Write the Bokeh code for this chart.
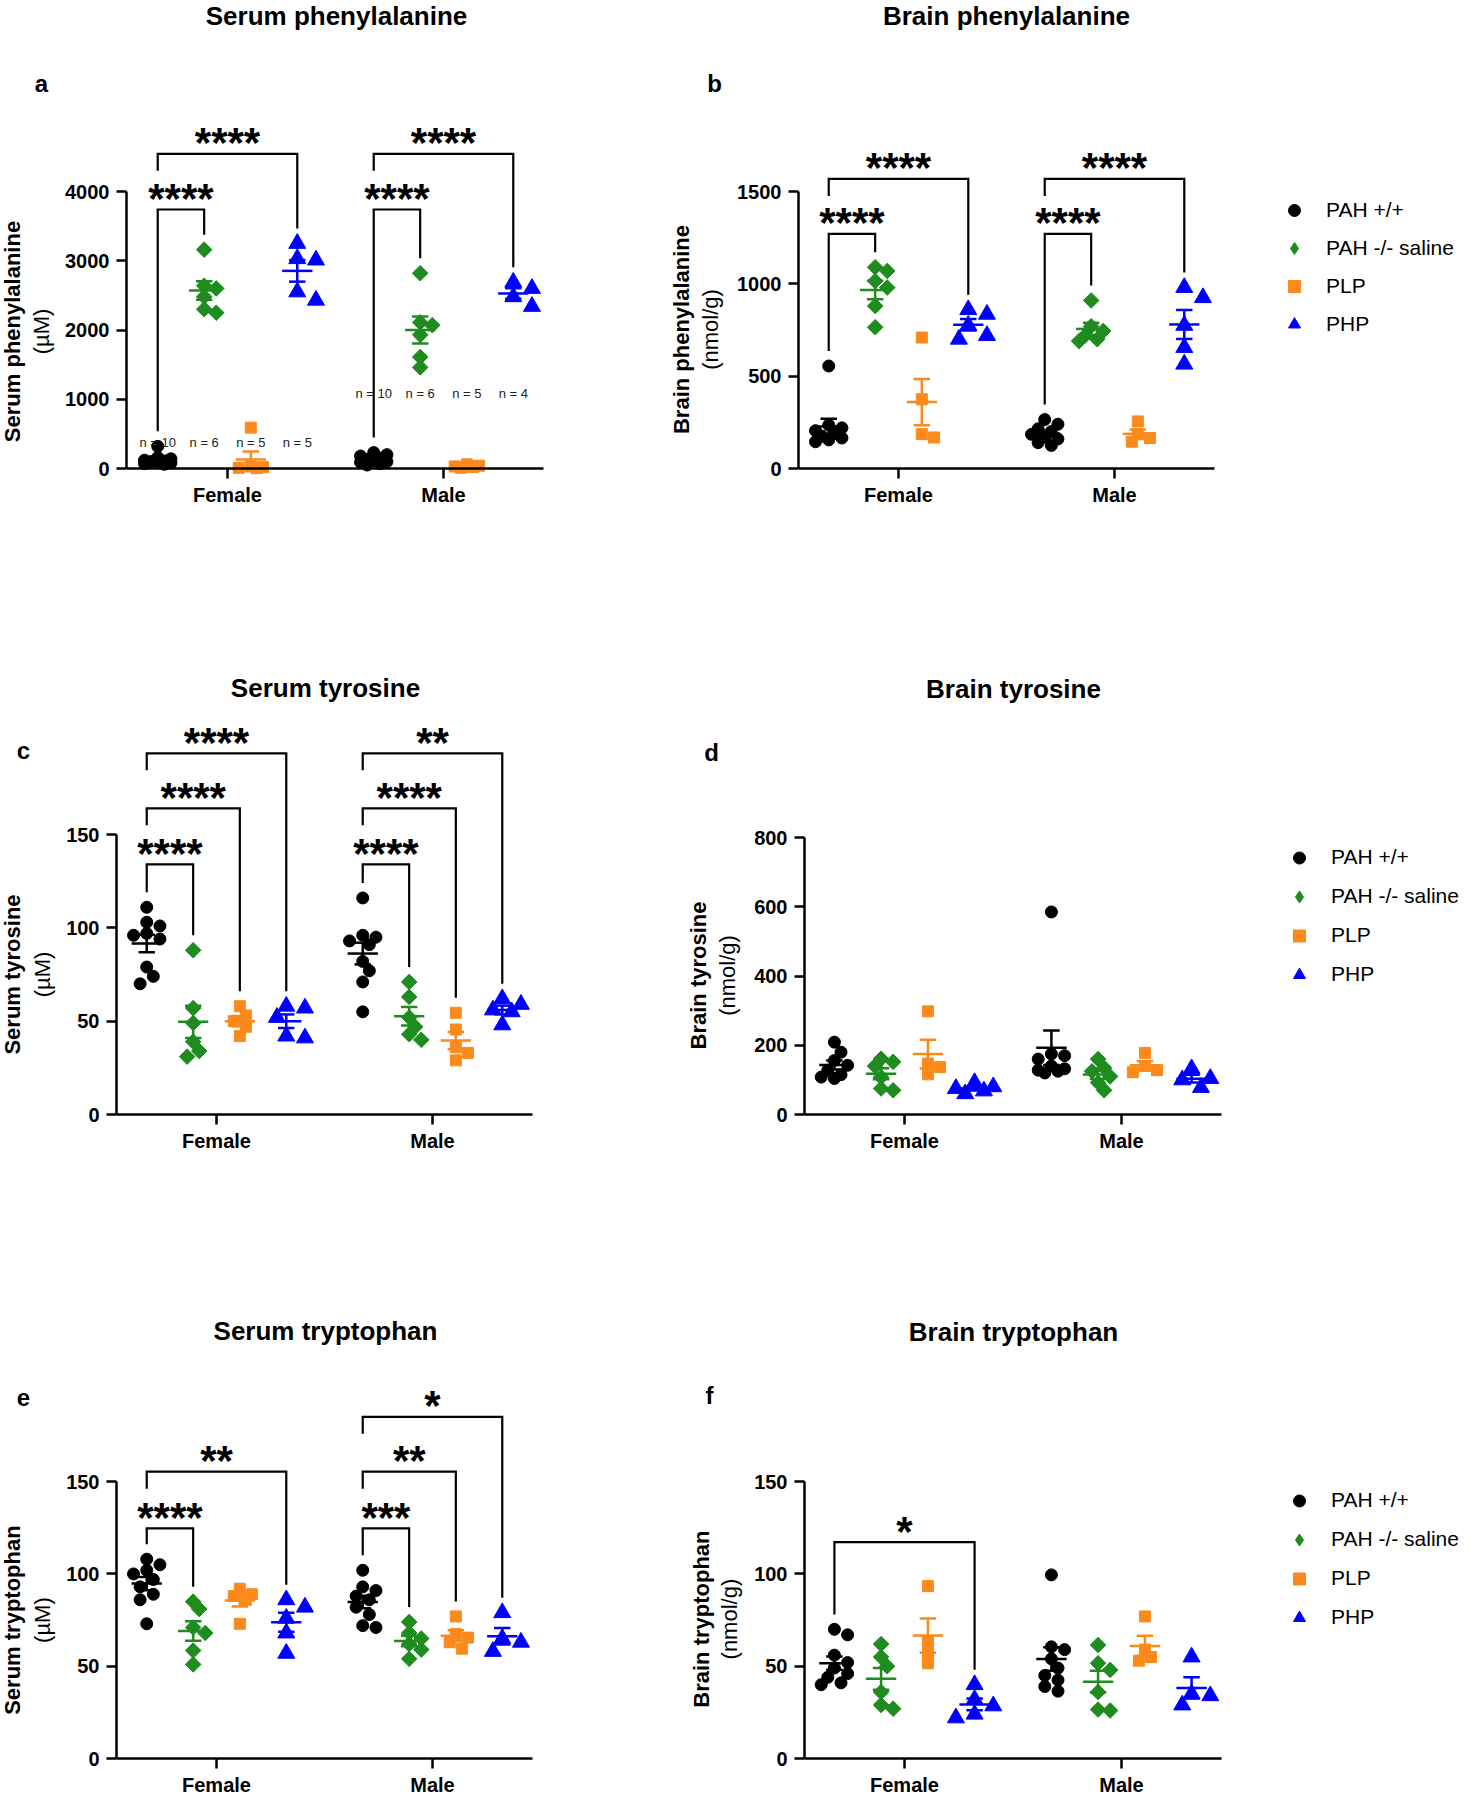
import math
import statistics
import numpy as np
from bokeh.plotting import figure
from bokeh.models import ColumnDataSource, FixedTicker, Label, Legend, LegendItem, Range1d
from bokeh.layouts import row, column
from bokeh.embed import file_html
from bokeh.resources import INLINE

FONT = "Liberation Sans"

# ---------------------------------------------------------------- data
sexes = ["Female", "Male"]
groups = ["PAH +/+", "PAH -/- saline", "PLP", "PHP"]

# each list: [PAH +/+, PAH -/- saline, PLP, PHP]
serum_phe_female = [[320, 160, 140, 120, 110, 100, 90, 80, 70, 60],
                    [3160, 2640, 2600, 2480, 2300, 2250],
                    [590, 30, 20, 10, 5],
                    [3250, 3030, 3010, 2550, 2430]]
serum_phe_male = [[230, 200, 180, 150, 130, 110, 100, 90, 70, 50],
                  [2820, 2110, 2070, 1930, 1610, 1460],
                  [60, 40, 30, 20, 10],
                  [2690, 2600, 2480, 2340]]

brain_phe_female = [[555, 235, 220, 205, 190, 175, 165, 155, 145],
                    [1090, 1070, 1015, 980, 880, 765],
                    [709, 375, 186, 168],
                    [860, 835, 775, 720, 700]]
brain_phe_male = [[265, 240, 215, 200, 185, 170, 160, 140, 125],
                  [910, 770, 745, 720, 700, 690],
                  [255, 185, 165, 145],
                  [980, 925, 775, 655, 565]]

serum_tyr_female = [[111, 103, 101, 97, 96, 94, 79, 74, 70],
                    [88, 57, 49, 39, 34, 31],
                    [58, 53, 50, 47, 42],
                    [58, 57, 52, 42, 41]]
serum_tyr_male = [[116, 96, 95, 93, 91, 82, 77, 71, 55],
                  [71, 63, 52, 47, 43, 40],
                  [54.5, 45.5, 36, 33, 29],
                  [62, 59, 56, 55, 48]]

brain_tyr_female = [[209, 180, 156, 142, 128, 115, 108, 104],
                    [161, 152, 140, 108, 75, 70],
                    [298, 147, 137, 116],
                    [92, 80, 75, 68, 60]]
brain_tyr_male = [[585, 175, 170, 160, 140, 132, 128, 125, 120],
                  [160, 135, 125, 110, 92, 70],
                  [178, 140, 128, 122],
                  [132, 104, 100, 78]]

serum_trp_female = [[108, 105, 102, 100, 97, 93, 89, 86, 73],
                    [85, 81, 71, 68, 58.5, 51],
                    [92, 89, 88, 86, 73],
                    [86, 82, 76, 68, 57]]
serum_trp_male = [[102, 93, 91, 88, 86, 82, 78, 72, 71],
                  [74, 68, 65, 62, 59, 54],
                  [77, 67.5, 65.5, 63, 59.5],
                  [79, 65, 63, 58]]

brain_trp_female = [[70, 67, 56, 52, 49, 46, 44, 41, 40],
                    [62, 55, 50, 36, 29, 27],
                    [93.4, 63.6, 57.9, 51.6],
                    [40, 32, 28.5, 24, 22]]
brain_trp_male = [[99.5, 60.5, 59, 54, 49, 45, 42.5, 39, 36.5],
                  [61.5, 51.6, 48, 36, 26.5, 26],
                  [77, 59, 55, 53],
                  [55, 35, 34, 29]]

# y ticks
serum_phe_ticks = [0, 1000, 2000, 3000, 4000]
brain_phe_ticks = [0, 500, 1000, 1500]
serum_tyr_ticks = [0, 50, 100, 150]
brain_tyr_ticks = [0, 200, 400, 600, 800]
serum_trp_ticks = [0, 50, 100, 150]
brain_trp_ticks = [0, 50, 100, 150]

# significance: (sex index, compared group index vs PAH +/+, bracket height, stars)
serum_phe_sig = [(0, 1, 3740, "****"), (0, 3, 4544, "****"), (1, 1, 3740, "****"), (1, 3, 4544, "****")]
brain_phe_sig = [(0, 1, 1271, "****"), (0, 3, 1568, "****"), (1, 1, 1271, "****"), (1, 3, 1568, "****")]
serum_tyr_sig = [(0, 1, 134, "****"), (0, 2, 164, "****"), (0, 3, 193.5, "****"),
                 (1, 1, 134, "****"), (1, 2, 164, "****"), (1, 3, 193.5, "**")]
brain_tyr_sig = []
serum_trp_sig = [(0, 1, 124.7, "****"), (0, 3, 155.4, "**"),
                 (1, 1, 124.7, "***"), (1, 2, 155.4, "**"), (1, 3, 185.1, "*")]
brain_trp_sig = [(0, 3, 117.2, "*")]

serum_phe_n_levels = [380, 1078]

# ---------------------------------------------------------------- styles
group_colors = ["#000000", "#1e8c1e", "#fb8a1c", "#0000ff"]
group_markers = ["circle", "square", "square", "triangle"]
legend_markers = ["circle", "diamond", "square", "triangle"]
group_angles = [0.0, math.pi / 4, 0.0, 0.0]
group_sizes = [12, 11, 11, 17]
group_offsets = [-0.323, -0.108, 0.108, 0.323]


def sem(v):
    return statistics.stdev(v) / math.sqrt(len(v))


def swarm(vals, k, size, unit):
    d = 0.55 * size
    cands = [0.0, d, -d, 2 * d, -2 * d]
    placed = []
    offs = [0.0] * len(vals)
    order = sorted(range(len(vals)), key=lambda i: -vals[i])
    for i in order:
        y = vals[i] * k
        best = None
        for c in cands:
            if all(math.hypot(c - px, y - py) >= 0.85 * size for px, py in placed):
                best = c
                break
        if best is None:
            best = max(cands, key=lambda c: min(math.hypot(c - px, y - py) for px, py in placed))
        placed.append((best, y))
        offs[i] = best / unit
    return offs


def style_fig(p):
    p.xgrid.visible = False
    p.ygrid.visible = False
    p.outline_line_color = None
    p.background_fill_color = "white"
    p.border_fill_color = "white"


def label_fig(ylab, unit_lab, letter, g):
    """Strip left of the y axis holding the panel letter and the two-line axis title."""
    x0, w = g["fx"], g["lw"]
    y0, h = g["fy"], g["fh"]
    fbot = g["fbot"]
    p = figure(width=w, height=h, x_range=Range1d(x0, x0 + w), y_range=Range1d(fbot, y0),
               output_backend="svg", toolbar_location=None, title=None,
               x_axis_location=None, y_axis_location=None,
               min_border_left=0, min_border_right=0, min_border_top=0,
               min_border_bottom=int(round(y0 + h - fbot)))
    style_fig(p)

    def L(px, py, text, size, style="bold", angle=0.0):
        p.add_layout(Label(x=px, y=py, text=text, text_font=FONT,
                           text_font_size=size, text_font_style=style, text_align="center",
                           text_baseline="middle", angle=angle, text_color="black"))

    L(g["letter"][0], g["letter"][1], letter, "24px")
    L(g["ylab_x"], g["ylab_y"], ylab, "22px", "bold", math.pi / 2)
    L(g["unit_x"], g["ylab_y"], unit_lab, "22px", "normal", math.pi / 2)
    return p


def make_panel(title, vals_f, vals_m, yticks, sig, g, legend=False, n_levels=None):
    unit = g["xM"] - g["xF"]
    k = (g["y0"] - g["ytop"]) / yticks[-1]
    mx = g["fx"] + g["lw"]          # left edge of the main figure (page px)
    mw = g["fw"] - g["lw"]

    def X(px):
        return (px - g["xF"]) / unit

    def Y(py):
        return (g["y0"] - py) / k

    fbot = g["fbot"]
    p = figure(width=mw, height=g["fh"],
               x_range=Range1d(X(g["xL"]), X(mx + mw)),
               y_range=Range1d(Y(fbot), Y(g["fy"])),
               output_backend="svg", toolbar_location=None, title=None,
               min_border_left=int(round(g["xL"] - mx)),
               min_border_right=0, min_border_top=0,
               min_border_bottom=int(round(g["fy"] + g["fh"] - fbot)))
    style_fig(p)

    xa = p.xaxis[0]
    ya = p.yaxis[0]
    for ax in (xa, ya):
        ax.axis_line_width = 2.5
        ax.axis_line_color = "black"
        ax.major_tick_line_width = 2.5
        ax.major_tick_line_color = "black"
        ax.major_tick_in = 0
        ax.major_tick_out = 10
        ax.minor_tick_line_color = None
        ax.major_label_text_font = FONT
        ax.major_label_text_font_size = "20px"
        ax.major_label_text_font_style = "bold"
        ax.major_label_text_color = "black"
    xa.ticker = FixedTicker(ticks=[0, 1])
    xa.major_label_overrides = {0: sexes[0], 1: sexes[1]}
    xa.major_label_standoff = 5
    xa.bounds = (X(g["xL"]), X(g["xR"]))
    ya.ticker = FixedTicker(ticks=yticks)
    ya.bounds = (0, yticks[-1])
    ya.major_label_standoff = 7
    if fbot != g["y0"]:
        xa.fixed_location = 0

    data = [vals_f, vals_m]
    rends = []
    for gi in range(4):
        xs, ys = [], []
        for s in range(2):
            v = data[s][gi]
            offs = swarm(v, k, group_sizes[gi], unit)
            xs += [s + group_offsets[gi] + o for o in offs]
            ys += list(v)
        src = ColumnDataSource(dict(x=xs, y=ys))
        r = p.scatter("x", "y", source=src, marker=group_markers[gi], size=group_sizes[gi],
                      angle=group_angles[gi], fill_color=group_colors[gi],
                      line_color=group_colors[gi], line_width=1)
        rends.append(r)

    seg = dict(x0=[], y0=[], x1=[], y1=[], segcol=[])

    def add(a, b, c, d, col):
        seg["x0"].append(a); seg["y0"].append(b); seg["x1"].append(c); seg["y1"].append(d)
        seg["segcol"].append(col)

    for s in range(2):
        for gi in range(4):
            v = data[s][gi]
            m = statistics.mean(v)
            e = sem(v)
            xc = s + group_offsets[gi]
            col = group_colors[gi]
            add(xc - 0.07, m, xc + 0.07, m, col)
            add(xc, m - e, xc, m + e, col)
            add(xc - 0.038, m + e, xc + 0.038, m + e, col)
            add(xc - 0.038, m - e, xc + 0.038, m - e, col)
    p.segment("x0", "y0", "x1", "y1", source=ColumnDataSource(seg),
              line_color="segcol", line_width=2.5)

    # significance brackets
    star_fs = 42
    spans = []
    ml = dict(xs=[], ys=[])
    for (s, gi, top, stars) in sorted(sig, key=lambda b: b[2]):
        xl = s + group_offsets[0]
        xr = s + group_offsets[gi]
        bottoms = []
        for xleg, gidx in ((xl, 0), (xr, gi)):
            covered = any(ss == s and t < top and a - 1e-9 <= xleg <= b + 1e-9
                          for (ss, t, a, b) in spans)
            if covered:
                bottoms.append(top - 17 / k)
            else:
                bottoms.append(max(data[s][gidx]) + 15 / k)
        spans.append((s, top, xl, xr))
        ml["xs"].append([xl, xl, xr, xr])
        ml["ys"].append([bottoms[0], top, top, bottoms[1]])
        p.add_layout(Label(x=(xl + xr) / 2, y=top + 11 / k, text=stars,
                           text_font=FONT, text_font_size=f"{star_fs}px", text_font_style="bold",
                           text_align="center", text_baseline="middle", text_color="black"))
    if ml["xs"]:
        p.multi_line("xs", "ys", source=ColumnDataSource(ml), line_color="black",
                     line_width=2.2, line_join="miter")

    if n_levels is not None:
        for s in range(2):
            for gi in range(4):
                p.add_layout(Label(x=s + group_offsets[gi], y=n_levels[s],
                                   text=f"n = {len(data[s][gi])}", text_font=FONT,
                                   text_font_size="13px", text_color="#222222",
                                   text_align="center", text_baseline="middle"))

    p.add_layout(Label(x=X(g["title"][0]), y=Y(g["title"][1]), text=title, text_font=FONT,
                       text_font_size="26px", text_font_style="bold", text_align="center",
                       text_baseline="middle", text_color="black"))

    if legend:
        leg_rends = []
        for i in range(4):
            if legend_markers[i] == group_markers[i] and group_angles[i] == 0:
                leg_rends.append(rends[i])
            else:  # legend swatch only: a renderer whose single point is undefined (not drawn)
                swatch = ColumnDataSource(dict(x=np.array([np.nan]), y=np.array([np.nan])))
                leg_rends.append(p.scatter("x", "y", source=swatch, size=group_sizes[i],
                                           marker=legend_markers[i], fill_color=group_colors[i],
                                           line_color=group_colors[i]))
        pitch = int(round(g["leg_pitch"]))
        gw = 30
        box_left = g["leg_gx"] - gw / 2
        standoff = int(round(g["leg_tx"] - (box_left + gw)))
        top = g["leg_row0"] - pitch / 2
        bottom = top + 4 * pitch
        leg = Legend(items=[LegendItem(label=groups[i], renderers=[leg_rends[i]]) for i in range(4)],
                     location=(box_left - g["xL"], fbot - bottom),
                     orientation="vertical", glyph_width=gw, glyph_height=pitch,
                     label_height=pitch, spacing=0, padding=0, margin=0,
                     label_standoff=standoff, border_line_color=None,
                     background_fill_alpha=0, label_text_font=FONT,
                     label_text_font_size="21px", label_text_color="black")
        p.add_layout(leg)
    return p


# page-pixel geometry of each panel
ga = dict(fx=0, fy=0, fw=640, fh=640, lw=60, xL=126, xR=543, xF=227, xM=443, y0=468, ytop=191,
          fbot=552, title=(336, 15), letter=(41, 83), ylab_x=12, unit_x=41, ylab_y=331)
gb = dict(fx=640, fy=0, fw=828, fh=640, lw=94, xL=798, xR=1214, xF=898, xM=1114, y0=468, ytop=191,
          fbot=552, title=(1006, 15), letter=(714, 83), ylab_x=681, unit_x=710, ylab_y=329,
          leg_gx=1294, leg_tx=1326, leg_row0=210, leg_pitch=38.3)
gc = dict(fx=0, fy=640, fw=640, fh=650, lw=58, xL=116, xR=532, xF=216, xM=432, y0=1114, ytop=834,
          fbot=1114, title=(325, 687), letter=(23, 750), ylab_x=12, unit_x=42, ylab_y=974)
gd = dict(fx=640, fy=640, fw=828, fh=650, lw=110, xL=804, xR=1221, xF=904, xM=1121, y0=1114, ytop=837,
          fbot=1114, title=(1013, 688), letter=(711, 752), ylab_x=698, unit_x=727, ylab_y=975,
          leg_gx=1299, leg_tx=1331, leg_row0=857, leg_pitch=39)
ge = dict(fx=0, fy=1290, fw=640, fh=508, lw=58, xL=116, xR=532, xF=216, xM=432, y0=1760, ytop=1482,
          fbot=1760, title=(325, 1331), letter=(23, 1397), ylab_x=12, unit_x=42, ylab_y=1621)
gf = dict(fx=640, fy=1290, fw=828, fh=508, lw=110, xL=804, xR=1221, xF=904, xM=1121, y0=1760, ytop=1482,
          fbot=1760, title=(1013, 1332), letter=(709, 1395), ylab_x=701, unit_x=729, ylab_y=1620,
          leg_gx=1299, leg_tx=1331, leg_row0=1502, leg_pitch=38.7)

la = label_fig("Serum phenylalanine", "(µM)", "a", ga)
pa = make_panel("Serum phenylalanine", serum_phe_female, serum_phe_male, serum_phe_ticks,
                serum_phe_sig, ga, n_levels=serum_phe_n_levels)
lb = label_fig("Brain phenylalanine", "(nmol/g)", "b", gb)
pb = make_panel("Brain phenylalanine", brain_phe_female, brain_phe_male, brain_phe_ticks,
                brain_phe_sig, gb, legend=True)
lc = label_fig("Serum tyrosine", "(µM)", "c", gc)
pc = make_panel("Serum tyrosine", serum_tyr_female, serum_tyr_male, serum_tyr_ticks,
                serum_tyr_sig, gc)
ld = label_fig("Brain tyrosine", "(nmol/g)", "d", gd)
pd_ = make_panel("Brain tyrosine", brain_tyr_female, brain_tyr_male, brain_tyr_ticks,
                 brain_tyr_sig, gd, legend=True)
le = label_fig("Serum tryptophan", "(µM)", "e", ge)
pe = make_panel("Serum tryptophan", serum_trp_female, serum_trp_male, serum_trp_ticks,
                serum_trp_sig, ge)
lf = label_fig("Brain tryptophan", "(nmol/g)", "f", gf)
pf = make_panel("Brain tryptophan", brain_trp_female, brain_trp_male, brain_trp_ticks,
                brain_trp_sig, gf, legend=True)

layout = column(row(la, pa, lb, pb), row(lc, pc, ld, pd_), row(le, pe, lf, pf))
open("out.html", "w").write(file_html(layout, INLINE, title="Amino acids"))
